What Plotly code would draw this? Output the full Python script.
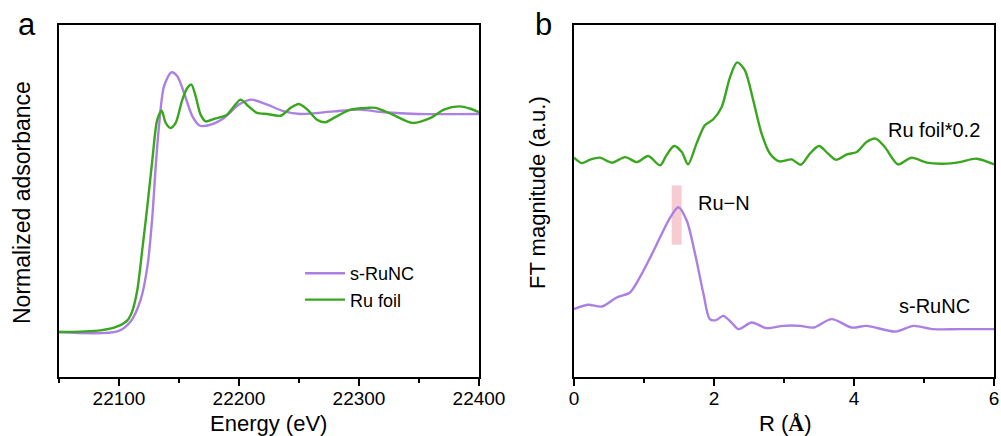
import plotly.graph_objects as go

# ---- Panel a: XANES ----
energy_runc = [22050, 22098.6, 22109.7, 22118, 22123.7, 22127.8, 22130.6, 22133.3, 22137.5, 22143.7,
               22148.6, 22154.2, 22161.2, 22167.5, 22176.4, 22187.5, 22200, 22209.7, 22223.6, 22237.5,
               22251.4, 22279, 22300, 22320.8, 22348.6, 22400]
abs_runc = [0.0, 0.003, 0.049, 0.148, 0.301, 0.531, 0.760, 0.943, 1.127, 1.191,
            1.173, 1.096, 0.989, 0.946, 0.951, 0.982, 1.043, 1.066, 1.043, 1.012,
            1.0, 1.012, 1.020, 1.008, 1.0, 1.0]

energy_foil = [22050, 22084.7, 22098.6, 22107, 22111, 22115.3, 22119.4, 22123.6, 22127.8, 22131.9,
               22135.6, 22138.9, 22143, 22147.2, 22152.8, 22156.9, 22160.3, 22163.9, 22168, 22172.2,
               22179, 22190, 22195.8, 22201.4, 22208, 22215, 22223.6, 22234.7, 22243, 22250,
               22257, 22265, 22272, 22279, 22293, 22307, 22314, 22328, 22344.5, 22359.7,
               22370.8, 22383.3, 22393, 22400]
abs_foil = [0.0, 0.008, 0.026, 0.054, 0.095, 0.194, 0.378, 0.576, 0.79, 0.974,
            1.015, 0.959, 0.936, 0.959, 1.066, 1.119, 1.135, 1.081, 0.997, 0.966,
            0.977, 0.997, 1.035, 1.066, 1.035, 1.005, 1.0, 0.992, 1.028, 1.046,
            1.02, 0.974, 0.962, 0.982, 1.020, 1.028, 1.028, 0.997, 0.959, 0.982,
            1.020, 1.035, 1.024, 1.008]

# ---- Panel b: FT-EXAFS ----
r_foil = [0, 0.11, 0.23, 0.37, 0.54, 0.73, 0.9, 1.06, 1.23, 1.32, 1.43, 1.54, 1.63, 1.75, 1.87,
          1.99, 2.11, 2.23, 2.33, 2.44, 2.56, 2.68, 2.8, 2.94, 3.11, 3.24, 3.37, 3.5, 3.63, 3.74,
          3.9, 4.04, 4.18, 4.31, 4.44, 4.63, 4.82, 5.04, 5.28, 5.51, 5.75, 6.0]
ft_foil = [2.187, 2.133, 2.167, 2.187, 2.137, 2.193, 2.143, 2.203, 2.11, 2.21, 2.303, 2.243, 2.12,
           2.327, 2.51, 2.57, 2.693, 2.993, 3.137, 3.06, 2.76, 2.427, 2.227, 2.15, 2.17, 2.117,
           2.227, 2.303, 2.227, 2.167, 2.22, 2.243, 2.343, 2.377, 2.293, 2.12, 2.187, 2.137,
           2.127, 2.143, 2.177, 2.12]

r_runc = [0, 0.2, 0.4, 0.61, 0.8, 0.94, 1.09, 1.23, 1.35, 1.49, 1.61, 1.73, 1.85, 1.94, 2.03,
          2.13, 2.25, 2.35, 2.54, 2.75, 2.99, 3.23, 3.42, 3.68, 3.97, 4.18, 4.59, 4.85, 5.13,
          5.51, 6.0]
ft_runc = [0.677, 0.72, 0.703, 0.793, 0.843, 0.993, 1.193, 1.393, 1.56, 1.693, 1.56, 1.227,
           0.827, 0.577, 0.567, 0.61, 0.543, 0.477, 0.543, 0.487, 0.51, 0.51, 0.493, 0.577,
           0.493, 0.51, 0.453, 0.51, 0.477, 0.477, 0.477]

ru_n_band = [1.395, 1.538, 1.32, 1.91]  # x0, x1, y0, y1

PURPLE = "#ab80e2"
GREEN = "#3aa61f"
FONT = "Arial, Liberation Sans, sans-serif"

fig = go.Figure()
fig.add_trace(go.Scatter(x=energy_runc, y=abs_runc, mode="lines", name="s-RuNC",
                         line=dict(color=PURPLE, width=2.4, shape="spline", smoothing=0.8),
                         xaxis="x", yaxis="y"))
fig.add_trace(go.Scatter(x=energy_foil, y=abs_foil, mode="lines", name="Ru foil",
                         line=dict(color=GREEN, width=2.4, shape="spline", smoothing=0.8),
                         xaxis="x", yaxis="y"))
fig.add_trace(go.Scatter(x=r_foil, y=ft_foil, mode="lines", name="Ru foil*0.2", showlegend=False,
                         line=dict(color=GREEN, width=2.4, shape="spline", smoothing=0.8),
                         xaxis="x2", yaxis="y2"))
fig.add_trace(go.Scatter(x=r_runc, y=ft_runc, mode="lines", name="s-RuNC (FT)", showlegend=False,
                         line=dict(color=PURPLE, width=2.4, shape="spline", smoothing=0.8),
                         xaxis="x2", yaxis="y2"))

fig.add_shape(type="rect", xref="x2", yref="y2",
              x0=ru_n_band[0], x1=ru_n_band[1], y0=ru_n_band[2], y1=ru_n_band[3],
              fillcolor="#f6cbd1", line=dict(width=0), layer="below")

ydom = [(436 - 377) / 436, (436 - 25) / 436]
common_x = dict(showline=True, linecolor="black", linewidth=1.5, mirror=True,
                ticks="outside", ticklen=7, tickwidth=1.5, tickcolor="black",
                showgrid=False, zeroline=False, tickformat="d", automargin=False,
                ticklabelstandoff=-4,
                tickfont=dict(family=FONT, size=19, color="black"))
common_y = dict(showline=True, linecolor="black", linewidth=1.5, mirror=True, automargin=False,
                showticklabels=False, ticks="", showgrid=False, zeroline=False)

fig.update_layout(
    width=1001, height=436, autosize=False,
    margin=dict(l=0, r=0, t=0, b=0, pad=0, autoexpand=False),
    paper_bgcolor="white", plot_bgcolor="white",
    font=dict(family=FONT, color="black"),
    xaxis=dict(domain=[59 / 1001, 479 / 1001], range=[22050, 22400],
               tickvals=[22100, 22200, 22300, 22400],
               minor=dict(ticks="outside", ticklen=4, tickcolor="black", dtick=50, tick0=22050),
               anchor="y", **common_x),
    yaxis=dict(domain=ydom, range=[-0.206, 1.408], anchor="x", **common_y),
    xaxis2=dict(domain=[574 / 1001, 994 / 1001], range=[0, 6],
                tickvals=[0, 2, 4, 6],
                minor=dict(ticks="outside", ticklen=4, tickcolor="black", dtick=1, tick0=0),
                anchor="y2", **common_x),
    yaxis2=dict(domain=ydom, range=[0, 3.51], anchor="x2", **common_y),
    showlegend=True,
    legend=dict(x=300 / 1001, y=(436 - 255) / 436, xanchor="left", yanchor="top",
                bgcolor="rgba(0,0,0,0)", font=dict(family=FONT, size=18, color="black"),
                itemwidth=40, tracegroupgap=0),
)

ann = [
    dict(text="a", x=27 / 1001, y=(436 - 24) / 436, font=dict(size=31)),
    dict(text="b", x=543 / 1001, y=(436 - 24) / 436, font=dict(size=31)),
    dict(text="Energy (eV)", x=268 / 1001, y=(436 - 423) / 436, font=dict(size=22)),
    dict(text="R (<b><span style='font-family:Liberation Serif, Times New Roman, serif'>Å</span></b>)",
         x=785 / 1001, y=(436 - 423) / 436, font=dict(size=22)),
    dict(text="Normalized adsorbance", x=22 / 1001, y=(436 - 203) / 436, textangle=-90, font=dict(size=23)),
    dict(text="FT magnitude (a.u.)", x=538 / 1001, y=(436 - 193) / 436, textangle=-90, font=dict(size=22)),
]
for a in ann:
    a.update(xref="paper", yref="paper", showarrow=False, xanchor="center", yanchor="middle")
    a["font"].update(family=FONT, color="black")
    fig.add_annotation(**a)

fig.add_annotation(text="Ru−N", x=2.14, y=1.737, xref="x2", yref="y2", showarrow=False,
                   font=dict(family=FONT, size=20, color="black"))
fig.add_annotation(text="Ru foil*0.2", x=5.83, y=2.46, xref="x2", yref="y2", showarrow=False,
                   xanchor="right", font=dict(family=FONT, size=20, color="black"))
fig.add_annotation(text="s-RuNC", x=5.68, y=0.71, xref="x2", yref="y2", showarrow=False,
                   xanchor="right", font=dict(family=FONT, size=20, color="black"))

fig.write_html("out.html")
